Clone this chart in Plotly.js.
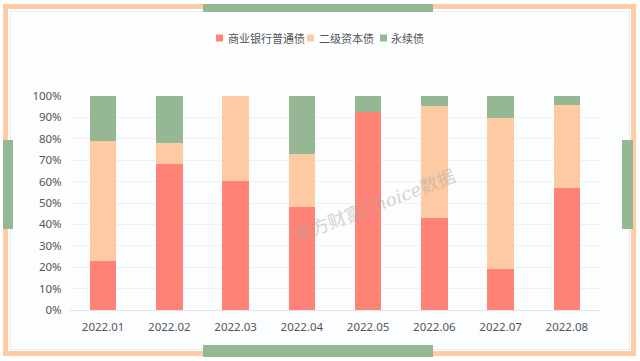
<!DOCTYPE html>
<html>
<head>
<meta charset="utf-8">
<script src="https://cdn.plot.ly/plotly-3.0.1.min.js"></script>
<style>
  html, body { margin: 0; padding: 0; background: #ffffff; }
  #wrap { position: relative; width: 640px; height: 361px; overflow: hidden; background: #ffffff; }
  .deco { position: absolute; }
  #frame { left: 3px; top: 4px; width: 623px; height: 342px; border: 5px solid #fdcba4; background: #fcfdfe; }
  #inner { left: 10px; top: 11px; width: 618px; height: 337px; border: 1px solid #e9edf3; }
  #chart { position: absolute; left: 0; top: 0; width: 640px; height: 361px; }
</style>
</head>
<body>
<div id="wrap">
  <div class="deco" id="frame"></div>
  <div class="deco" id="inner"></div>
  <div class="deco" style="left:203px;top:4px;width:230px;height:8px;background:#95b794;"></div>
  <div class="deco" style="left:203px;top:345px;width:230px;height:12px;background:#95b794;"></div>
  <div class="deco" style="left:3px;top:140px;width:10px;height:89px;background:#95b794;"></div>
  <div class="deco" style="left:622px;top:140px;width:11px;height:89px;background:#95b794;"></div>
  <div id="chart"></div>
</div>
<script>
var categories = ["2022.01","2022.02","2022.03","2022.04","2022.05","2022.06","2022.07","2022.08"];
var seriesNames = ["商业银行普通债","二级资本债","永续债"];
var commercialBank = [23, 68, 60.5, 48, 92.5, 43, 19, 57];
var tier2Capital   = [56, 10, 39.5, 25, 0, 52.5, 70.5, 39];
var perpetual      = [21, 22, 0, 27, 7.5, 4.5, 10.5, 4];
var yTickVals = [0,10,20,30,40,50,60,70,80,90,100];
var yTickText = ["0%","10%","20%","30%","40%","50%","60%","70%","80%","90%","100%"];
var colors = ["#fe8276", "#fdcaa3", "#95b794"];

// plot area in pixels (layout only)
var PL = 70, PR = 600, PT = 96, PB = 310;
function px2x(px) { return (px - PL) / (PR - PL); }
function py2y(py) { return (PB - py) / (PB - PT); }

var seriesData = [commercialBank, tier2Capital, perpetual];
var traces = seriesData.map(function(vals, i) {
  return {
    type: "bar",
    name: seriesNames[i],
    x: categories,
    y: vals,
    marker: { color: colors[i], line: { width: 0 } },
    width: 0.4,
    showlegend: false,
    hoverinfo: "x+y+name"
  };
});

// custom compact legend (squares + labels)
var legendSquareLeft = [216, 307, 380];
var legendTextLeft = [226, 317, 389];
var legendY = 38;
var shapes = [];
var annotations = [];
seriesNames.forEach(function(name, i) {
  shapes.push({
    type: "rect", xref: "paper", yref: "paper",
    x0: px2x(legendSquareLeft[i]), x1: px2x(legendSquareLeft[i] + 7),
    y0: py2y(legendY + 3.5), y1: py2y(legendY - 3.5),
    fillcolor: colors[i], line: { width: 0 }
  });
  annotations.push({
    xref: "paper", yref: "paper",
    x: px2x(legendTextLeft[i]), y: py2y(legendY),
    xanchor: "left", yanchor: "middle",
    text: name, showarrow: false,
    font: { size: 11, color: "#555555" }
  });
});
annotations.push({
  xref: "paper", yref: "paper",
  x: 0.575, y: 0.49,
  text: "东方财富<i>Choice</i>数据",
  showarrow: false,
  textangle: -21,
  font: { family: "'DejaVu Serif', 'Noto Sans CJK SC', serif", size: 18, color: "rgba(170,170,170,0.5)" }
});

var layout = {
  width: 640,
  height: 361,
  barmode: "stack",
  paper_bgcolor: "rgba(0,0,0,0)",
  plot_bgcolor: "rgba(0,0,0,0)",
  margin: { l: PL, r: 640 - PR, t: PT, b: 361 - PB },
  font: { family: "'Noto Sans CJK SC', 'Noto Sans', sans-serif", color: "#555555", size: 11 },
  showlegend: false,
  xaxis: {
    type: "category",
    showgrid: false,
    showline: true,
    linecolor: "#dfe3ea",
    linewidth: 1,
    ticks: "outside",
    ticklen: 6,
    tickcolor: "rgba(0,0,0,0)",
    tickfont: { family: "'Noto Sans', sans-serif", size: 11.5, color: "#555555" },
    fixedrange: true
  },
  yaxis: {
    range: [0, 100],
    tickvals: yTickVals,
    ticktext: yTickText,
    showgrid: true,
    gridcolor: "#eef0f4",
    gridwidth: 1,
    zeroline: false,
    showline: false,
    ticks: "outside",
    ticklen: 5,
    tickcolor: "rgba(0,0,0,0)",
    tickfont: { family: "'Noto Sans', sans-serif", size: 11.5, color: "#555555" },
    fixedrange: true
  },
  shapes: shapes,
  annotations: annotations
};

Plotly.newPlot("chart", traces, layout, { displayModeBar: false, staticPlot: true });
</script>
</body>
</html>
